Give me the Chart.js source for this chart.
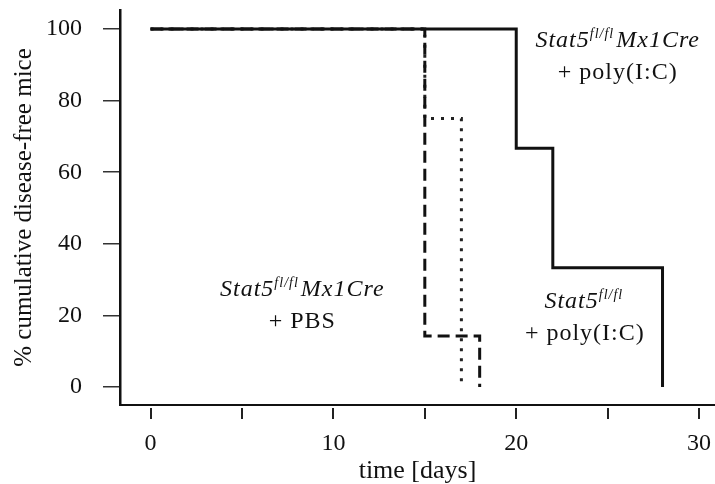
<!DOCTYPE html>
<html>
<head>
<meta charset="utf-8">
<script src="https://cdn.jsdelivr.net/npm/chart.js@4/dist/chart.umd.min.js"></script>
<style>
  html, body { margin: 0; padding: 0; background: #fff; }
  #wrap { width: 715px; height: 484px; position: relative; }
</style>
</head>
<body>
<div id="wrap"><canvas id="kmChart"></canvas></div>
<script>
// Kaplan-Meier curves, values
const polyCreDays = [0, 20, 22, 28];
const polyCreSurvival = [100, 66.7, 33.3, 0];

const pbsCreDays = [0, 15, 18];
const pbsCreSurvival = [100, 14.3, 0];

const polyFlDays = [0, 15, 17];
const polyFlSurvival = [100, 75, 0];

const xTickValues = [0, 5, 10, 15, 20, 25, 30];
const xTickLabels = ['0', '', '10', '', '20', '', '30'];
const yTickValues = [0, 20, 40, 60, 80, 100];

const serif = "'Liberation Serif', 'DejaVu Serif', serif";

// text labels placed in data units (x = days, y = %)
const notes = [
    { x: 25.55, y: 95.0, lines: [
        [{ t: 'Stat5', it: true }, { t: 'fl/fl', it: true, sup: true }, { t: 'Mx1Cre', it: true }],
        [{ t: '+ poly(I:C)' }]
    ]},
    { x: 8.3, y: 25.4, lines: [
        [{ t: 'Stat5', it: true }, { t: 'fl/fl', it: true, sup: true }, { t: 'Mx1Cre', it: true }],
        [{ t: '+ PBS' }]
    ]},
    { x: 23.75, y: 22.1, lines: [
        [{ t: 'Stat5', it: true }, { t: 'fl/fl', it: true, sup: true }],
        [{ t: '+ poly(I:C)' }]
    ]}
];

function toPoints(xs, ys) {
    return xs.map((x, i) => ({ x: x, y: ys[i] }));
}

function partFont(p) {
    const size = p.sup ? 14 : 24;
    return (p.it ? 'italic ' : '') + size + 'px ' + serif;
}

// draws the little x tick marks (detached from the axis line) and the labels
const extrasPlugin = {
    id: 'extras',
    afterDatasetsDraw(chart) {
        const ctx = chart.ctx;
        const xs = chart.scales.x;
        const ys = chart.scales.y;
        const bottom = chart.chartArea.bottom;

        ctx.save();
        ctx.strokeStyle = '#222';
        ctx.lineWidth = 2;
        xTickValues.forEach(v => {
            const px = Math.round(xs.getPixelForValue(v));
            ctx.beginPath();
            ctx.moveTo(px, bottom + 3);
            ctx.lineTo(px, bottom + 14);
            ctx.stroke();
        });

        ctx.fillStyle = '#111';
        ctx.textBaseline = 'alphabetic';
        ctx.textAlign = 'left';
        ctx.letterSpacing = '1px';
        notes.forEach(n => {
            const cx = xs.getPixelForValue(n.x);
            let base = ys.getPixelForValue(n.y);
            n.lines.forEach(line => {
                let total = 0;
                line.forEach(p => {
                    ctx.font = partFont(p);
                    total += ctx.measureText(p.t).width + (p.sup ? 2 : 0);
                });
                let cur = cx - total / 2;
                line.forEach(p => {
                    ctx.font = partFont(p);
                    ctx.fillText(p.t, cur, base + (p.sup ? -9 : 0));
                    cur += ctx.measureText(p.t).width + (p.sup ? 2 : 0);
                });
                base += 32;
            });
        });
        ctx.restore();
    }
};

const kmChart = new Chart(document.getElementById('kmChart'), {
    type: 'line',
    data: {
        datasets: [
            {
                label: 'Stat5 fl/fl Mx1Cre + poly(I:C)',
                data: toPoints(polyCreDays, polyCreSurvival),
                borderColor: '#111',
                borderWidth: 3,
                stepped: 'before'
            },
            {
                label: 'Stat5 fl/fl Mx1Cre + PBS',
                data: toPoints(pbsCreDays, pbsCreSurvival),
                borderColor: '#111',
                borderWidth: 3,
                borderDash: [12, 6],
                stepped: 'before'
            },
            {
                label: 'Stat5 fl/fl + poly(I:C)',
                data: toPoints(polyFlDays, polyFlSurvival),
                borderColor: '#222',
                borderWidth: 3,
                borderDash: [3, 7],
                stepped: 'before'
            }
        ]
    },
    options: {
        responsive: true,
        maintainAspectRatio: false,
        animation: false,
        layout: { padding: { top: 10, right: 0, bottom: 0, left: 0 } },
        elements: { point: { radius: 0, hoverRadius: 0 } },
        plugins: {
            legend: { display: false },
            tooltip: { enabled: false }
        },
        scales: {
            x: {
                type: 'linear',
                min: -1.67,
                max: 30.87,
                afterBuildTicks: s => { s.ticks = xTickValues.map(v => ({ value: v })); },
                afterFit: s => { s.height = 79; s.paddingLeft = 0; s.paddingRight = 0; },
                grid: { display: true, drawOnChartArea: false, drawTicks: false },
                border: { display: true, color: '#111', width: 2 },
                ticks: {
                    padding: 24,
                    color: '#111',
                    font: { family: serif, size: 24 },
                    callback: (v, i) => xTickLabels[i]
                },
                title: {
                    display: true,
                    text: 'time [days]',
                    color: '#111',
                    font: { family: serif, size: 26, lineHeight: 1 },
                    padding: { top: 0, bottom: 0 }
                }
            },
            y: {
                type: 'linear',
                min: -5.0,
                max: 105.3,
                afterBuildTicks: s => { s.ticks = yTickValues.map(v => ({ value: v })); },
                afterFit: s => { s.width = 120; s.paddingTop = 0; s.paddingBottom = 0; },
                grid: {
                    display: true,
                    drawOnChartArea: false,
                    drawTicks: true,
                    tickLength: 17,
                    color: '#333',
                    lineWidth: 1.5
                },
                border: { display: true, color: '#111', width: 2.5 },
                ticks: {
                    padding: 21,
                    color: '#111',
                    font: { family: serif, size: 24 }
                },
                title: {
                    display: true,
                    text: '% cumulative disease-free mice',
                    color: '#111',
                    font: { family: serif, size: 25, lineHeight: 1.2 },
                    padding: { top: 9, bottom: 0 }
                }
            }
        }
    },
    plugins: [extrasPlugin]
});
</script>
</body>
</html>
